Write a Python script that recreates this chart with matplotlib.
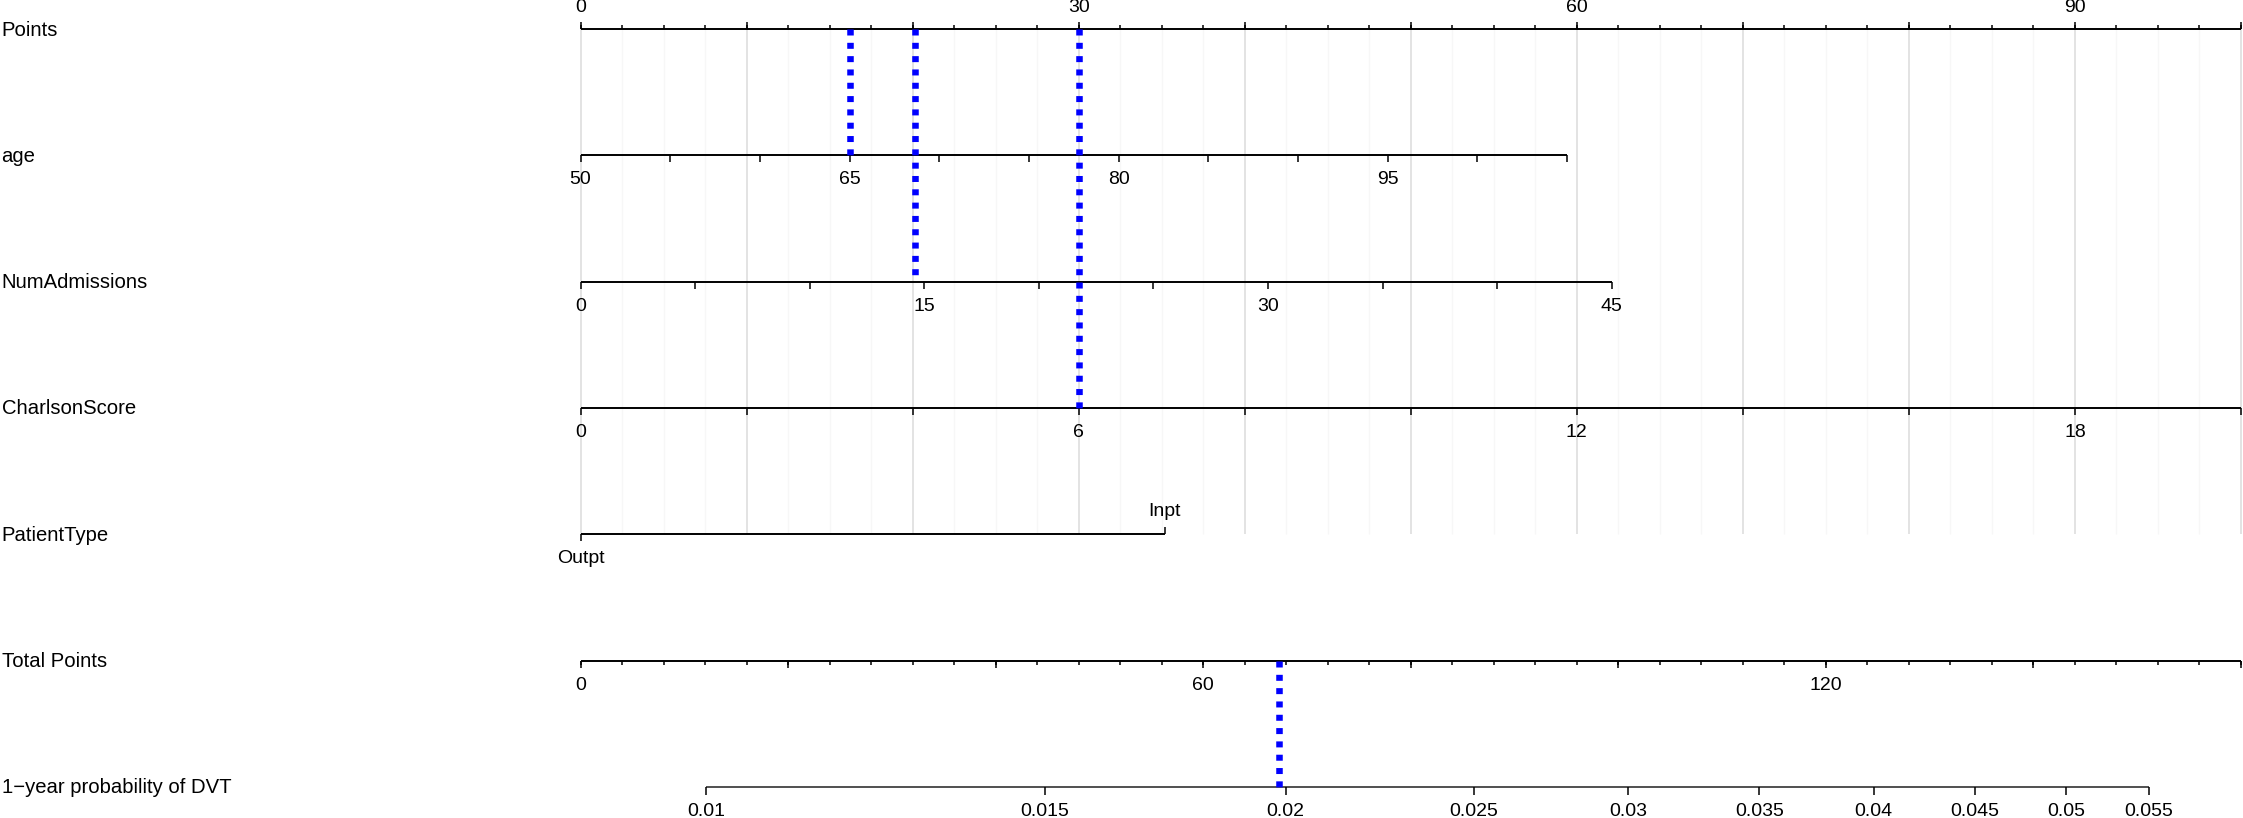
import numpy as np
import matplotlib
matplotlib.use('Agg')
import matplotlib.pyplot as plt

# ---------------- data ----------------
var_names = ['Points', 'age', 'NumAdmissions', 'CharlsonScore', 'PatientType',
             'Total Points', '1\u2212year probability of DVT']

points_major = np.arange(0, 101, 10)
points_minor = np.arange(0, 101, 2.5)
points_labels = [0, 30, 60, 90]

age_range = [50, 105]
age_points = [0, 59.4]
age_ticks = np.arange(50, 106, 5)
age_labels = [50, 65, 80, 95]

numadm_range = [0, 45]
numadm_points = [0, 62.1]
numadm_ticks = np.arange(0, 46, 5)
numadm_labels = [0, 15, 30, 45]

charlson_range = [0, 20]
charlson_points = [0, 100]
charlson_ticks = np.arange(0, 21, 2)
charlson_labels = [0, 6, 12, 18]

ptype_levels = ['Outpt', 'Inpt']
ptype_points = [0, 35.2]

total_max = 160
total_major = np.arange(0, 161, 20)
total_minor = np.arange(0, 161, 4)
total_labels = [0, 60, 120]

prob_ticks = [0.01, 0.015, 0.02, 0.025, 0.03, 0.035, 0.04, 0.045, 0.05, 0.055]
prob_labels = ['0.01', '0.015', '0.02', '0.025', '0.03', '0.035', '0.04', '0.045', '0.05', '0.055']
lp_intercept = -4.748
lp_slope = 0.0126

obs_age = 65
obs_numadm = 14.6
obs_charlson = 6
obs_total = 67.3

# ---------------- layout ----------------
W, H, DPI = 2243, 818, 100
x0_px, px_per_pt = 580.5, 16.605
rows = [29, 155.3, 281.6, 408, 534.3, 660.6, 786.9]
tick_fs, var_fs = 14.0, 14.6
FONT = 'Liberation Sans'
plt.rcParams['font.family'] = [FONT, 'DejaVu Sans']

fig = plt.figure(figsize=(W / DPI, H / DPI), dpi=DPI)
ax = fig.add_axes([0, 0, 1, 1])
ax.set_xlim(-x0_px / px_per_pt, (W - x0_px) / px_per_pt)
ax.set_ylim(H, 0)
ax.axis('off')


def lin(v, rng, pts):
    return np.interp(v, rng, pts)


def tot_x(t):
    return np.asarray(t, dtype=float) * 100.0 / total_max


def prob_x(p):
    p = np.asarray(p, dtype=float)
    return tot_x((np.log(p / (1 - p)) - lp_intercept) / lp_slope)


AX_LW = 1.4
TK = 7.0
TK_MINOR = 4.0
LBL_OFF = 24.5


def axis_line(xa, xb, y, lw=AX_LW, color='black'):
    ax.plot([xa, xb], [y, y], color=color, lw=lw, solid_capstyle='butt', zorder=3)


def ticks(xs, y, length, lw=1.1):
    ax.vlines(xs, y, y + length, color='black', lw=lw, zorder=3)


def labels(xs, texts, y):
    for x, t in zip(xs, texts):
        ax.text(x, y, str(t), ha='center', va='center', fontsize=tick_fs, color='black')


# grid
minor_only = [v for v in points_minor if v % 10 != 0]
ax.vlines(minor_only, rows[0], rows[4], color='#f7f7f7', lw=1.0, zorder=0)
ax.vlines(points_major, rows[0], rows[4], color='#dedede', lw=1.2, zorder=1)

# Points axis (ticks upward)
axis_line(0, 100, rows[0])
ticks(points_minor, rows[0], -TK_MINOR)
ticks(points_major, rows[0], -TK)
labels(points_labels, points_labels, rows[0] - 21)

# age
axis_line(*lin(age_range, age_range, age_points), rows[1])
ticks(lin(age_ticks, age_range, age_points), rows[1], TK)
labels(lin(age_labels, age_range, age_points), age_labels, rows[1] + LBL_OFF)

# NumAdmissions
axis_line(*lin(numadm_range, numadm_range, numadm_points), rows[2])
ticks(lin(numadm_ticks, numadm_range, numadm_points), rows[2], TK)
labels(lin(numadm_labels, numadm_range, numadm_points), numadm_labels, rows[2] + LBL_OFF)

# CharlsonScore
axis_line(*lin(charlson_range, charlson_range, charlson_points), rows[3])
ticks(lin(charlson_ticks, charlson_range, charlson_points), rows[3], TK)
labels(lin(charlson_labels, charlson_range, charlson_points), charlson_labels, rows[3] + LBL_OFF)

# PatientType
axis_line(ptype_points[0], ptype_points[1], rows[4])
ticks([ptype_points[0]], rows[4], TK)
ticks([ptype_points[1]], rows[4], -TK)
ax.text(ptype_points[0], rows[4] + 24, ptype_levels[0], ha='center', va='center', fontsize=tick_fs)
ax.text(ptype_points[1], rows[4] - 22.5, ptype_levels[1], ha='center', va='center', fontsize=tick_fs)

# Total Points
axis_line(0, tot_x(total_max), rows[5])
ticks(tot_x(total_minor), rows[5], TK_MINOR)
ticks(tot_x(total_major), rows[5], TK)
labels(tot_x(total_labels), total_labels, rows[5] + LBL_OFF)

# Probability
px = prob_x(prob_ticks)
axis_line(px[0], px[-1], rows[6], lw=1.1, color='#202020')
ticks(px, rows[6], TK + 1)
labels(px, prob_labels, rows[6] + LBL_OFF + 0.5)

# variable names
for name, y in zip(var_names, rows):
    ax.text(-x0_px / px_per_pt + 1.5 / px_per_pt, y + 1, name, ha='left', va='center',
            fontsize=var_fs, color='black')

# observation (blue dotted lines)
blue_kw = dict(color='#0000ff', lw=4.7, linestyle=(0, (0.92, 1.12)),
               dash_capstyle='butt', zorder=5)
ax.plot([lin(obs_age, age_range, age_points)] * 2, [rows[0], rows[1]], **blue_kw)
ax.plot([lin(obs_numadm, numadm_range, numadm_points)] * 2, [rows[0], rows[2]], **blue_kw)
ax.plot([lin(obs_charlson, charlson_range, charlson_points)] * 2, [rows[0], rows[3]], **blue_kw)
ax.plot([tot_x(obs_total)] * 2, [rows[5], rows[6]], **blue_kw)

fig.savefig('out.png', dpi=DPI, facecolor='white')
